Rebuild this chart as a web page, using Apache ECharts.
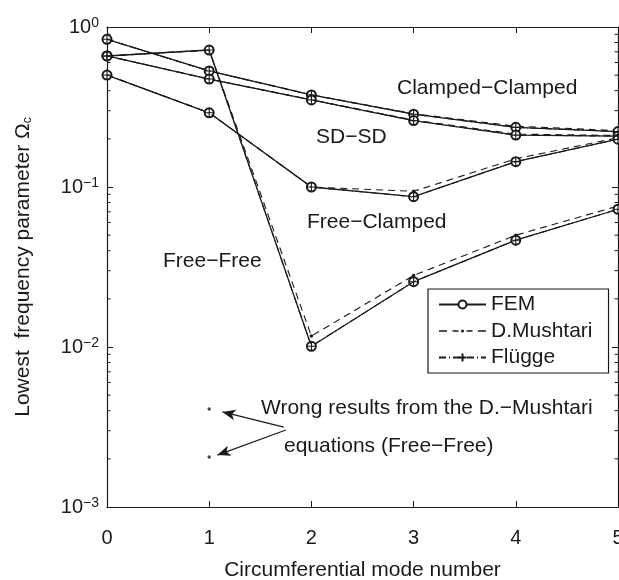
<!DOCTYPE html>
<html>
<head>
<meta charset="utf-8">
<script src="https://cdn.jsdelivr.net/npm/echarts@6/dist/echarts.min.js"></script>
<style>
  html, body { margin: 0; padding: 0; background: #fff; }
  #main { width: 619px; height: 580px; }
</style>
</head>
<body>
<div id="main"></div>
<script>
// mode numbers on x
const modes = [0, 1, 2, 3, 4, 5];

// FEM values
const femCC = [0.838, 0.531, 0.376, 0.285, 0.236, 0.222];
const femSS = [0.659, 0.473, 0.350, 0.260, 0.211, 0.208];
const femFC = [0.501, 0.291, 0.100, 0.087, 0.144, 0.199];
const femFF = [0.659, 0.718, 0.0101, 0.0256, 0.0465, 0.0726];

// D.Mushtari values (dashed)
const dmCC = [0.838, 0.531, 0.377, 0.287, 0.240, 0.225];
const dmSS = [0.659, 0.473, 0.351, 0.262, 0.214, 0.210];
const dmFC = [0.501, 0.291, 0.100, 0.094, 0.150, 0.203];
const dmFF = [0.659, 0.718, 0.0117, 0.0280, 0.0500, 0.0760];
// wrong D.Mushtari roots at mode 1 (Free-Free)
const dmWrong = [0.0041, 0.00205];

// Flügge values (coincide with FEM)
const flCC = [0.838, 0.531, 0.376, 0.285, 0.236, 0.222];
const flSS = [0.659, 0.473, 0.350, 0.260, 0.211, 0.208];
const flFC = [0.501, 0.291, 0.100, 0.087, 0.144, 0.199];
const flFF = [0.659, 0.718, 0.0101, 0.0256, 0.0465, 0.0726];

// log axis minor tick values
const minorTicks = [];
[0.001, 0.01, 0.1].forEach(d => { for (let k = 2; k <= 9; k++) minorTicks.push(+(k * d).toPrecision(3)); });

const ink = '#1a1a1a';
const font = 'Liberation Sans, Arial, Helvetica, sans-serif';

const pairs = (vals) => modes.map((m, i) => [m, vals[i]]);
const plusPath = 'path://M5,0 L5,10 M0,5 L10,5';
// legend icon for D.Mushtari: dashes with a small dot in the middle
const dmIcon = 'path://M0,0.8 H8 V2.2 H0 Z M13.5,0.8 H19.5 V2.2 H13.5 Z M27.5,0.8 H33.5 V2.2 H27.5 Z M39,0.8 H47 V2.2 H39 Z M22,1.5 A1.5,1.5 0 1 1 25,1.5 A1.5,1.5 0 1 1 22,1.5 Z';

const femSeries = (vals) => ({
    name: 'FEM', type: 'line', data: pairs(vals),
    symbol: 'emptyCircle', symbolSize: 9,
    lineStyle: { color: ink, width: 1.3 },
    itemStyle: { color: ink, borderColor: ink, borderWidth: 1.1 },
    z: 3, animation: false
});
const dmSeries = (vals) => ({
    name: 'D.Mushtari', type: 'line', data: pairs(vals),
    symbol: 'circle', symbolSize: 3.5,
    lineStyle: { color: ink, width: 1.1, type: [7, 5] },
    itemStyle: { color: ink },
    z: 2, animation: false
});
const flSeries = (vals) => ({
    name: 'Flügge', type: 'line', data: pairs(vals),
    symbol: plusPath, symbolSize: 9,
    lineStyle: { color: ink, width: 1.1, type: [7, 3, 1, 3] },
    itemStyle: { color: 'rgba(0,0,0,0)', borderColor: ink, borderWidth: 1.1 },
    z: 4, animation: false
});

const supLabel = (v) => {
    const e = Math.round(Math.log10(v));
    return '{b|10}{s|' + (e < 0 ? '\u2212' + (-e) : e) + '}';
};

const note = (text, left, cy) => ({
    type: 'text', left: left, top: cy - 11,
    style: { text: text, font: '21px ' + font, fill: ink }
});

const boxAxis = { show: true, onZero: false, lineStyle: { color: ink, width: 1.2 } };
const inTick = { show: true, inside: true, length: 6, lineStyle: { color: ink } };

const option = {
    backgroundColor: '#fff',
    animation: false,
    textStyle: { fontFamily: font, color: ink },
    grid: { left: 107, right: 1, top: 27, bottom: 73, containLabel: false, outerBoundsMode: 'none' },
    legend: {
        data: ['FEM', { name: 'D.Mushtari', icon: dmIcon, itemStyle: { color: ink, borderWidth: 0 } }, 'Flügge'],
        orient: 'vertical', left: 428, top: 289,
        borderColor: ink, borderWidth: 1.2, borderRadius: 0,
        padding: [5, 16, 5, 10], itemGap: 5.5,
        itemWidth: 47, itemHeight: 10,
        textStyle: { fontSize: 21, lineHeight: 21, color: ink, fontFamily: font }
    },
    xAxis: [{
        type: 'value', min: 0, max: 5, interval: 1,
        name: 'Circumferential mode number', nameLocation: 'middle', nameGap: 53,
        nameTextStyle: { fontSize: 21, color: ink, fontFamily: font },
        axisLine: boxAxis, axisTick: inTick,
        axisLabel: { fontSize: 20, color: ink, margin: 21, fontFamily: font },
        splitLine: { show: false }
    }, {
        type: 'value', position: 'top', min: 0, max: 5, interval: 1,
        axisLine: boxAxis, axisTick: inTick,
        axisLabel: { show: false }, splitLine: { show: false }
    }],
    yAxis: [{
        type: 'log', logBase: 10, min: 0.001, max: 1,
        name: 'Lowest  frequency parameter \u03a9{c|c}', nameLocation: 'middle', nameGap: 73,
        nameTextStyle: {
            fontSize: 21, color: ink, fontFamily: font,
            rich: { c: { fontSize: 12, fontFamily: font, color: ink, padding: [10, 0, 0, 0], verticalAlign: 'bottom' } }
        },
        axisLine: boxAxis, axisTick: inTick,
        axisLabel: {
            margin: 8, formatter: supLabel,
            rich: {
                b: { fontSize: 20, lineHeight: 22, fontFamily: font, color: ink },
                s: { fontSize: 14, fontFamily: font, color: ink, verticalAlign: 'top', padding: [0, 0, 7, 0] }
            }
        },
        splitLine: { show: false }
    }, {
        type: 'log', logBase: 10, min: 0.001, max: 1, position: 'right',
        axisLine: boxAxis, axisTick: inTick,
        axisLabel: { show: false }, splitLine: { show: false }
    }],
    graphic: [
        note('Clamped\u2212Clamped', 397, 89),
        note('SD\u2212SD', 316, 138),
        note('Free\u2212Clamped', 307, 223),
        note('Free\u2212Free', 163, 262),
        note('Wrong results from the D.\u2212Mushtari', 261, 409),
        note('equations (Free\u2212Free)', 284, 447)
    ],
    series: [
        femSeries(femCC), femSeries(femSS), femSeries(femFC), femSeries(femFF),
        dmSeries(dmCC), dmSeries(dmSS), dmSeries(dmFC), dmSeries(dmFF),
        flSeries(flCC), flSeries(flSS), flSeries(flFC), flSeries(flFF),
        {
            name: 'wrong', type: 'scatter', data: dmWrong.map(v => [1, v]),
            symbol: 'circle', symbolSize: 3.5, itemStyle: { color: ink },
            markLine: {
                silent: true, symbol: ['none', 'arrow'], symbolSize: [8, 13],
                label: { show: false },
                lineStyle: { color: ink, width: 1.2, type: 'solid' },
                data: [
                    [{ coord: [1.73, 0.00316] }, { coord: [1.13, 0.00393] }],
                    [{ coord: [1.75, 0.00303] }, { coord: [1.08, 0.00211] }]
                ]
            }
        },
        {
            name: 'minor', type: 'custom', clip: false, silent: true,
            data: minorTicks.map(v => [0, v]),
            renderItem: (params, api) => {
                const v = api.value(1);
                const l = api.coord([0, v]);
                const r = api.coord([5, v]);
                const st = { stroke: ink, lineWidth: 1 };
                return {
                    type: 'group', children: [
                        { type: 'line', shape: { x1: l[0], y1: l[1], x2: l[0] + 3.5, y2: l[1] }, style: st },
                        { type: 'line', shape: { x1: r[0] - 3.5, y1: r[1], x2: r[0], y2: r[1] }, style: st }
                    ]
                };
            }
        }
    ]
};

echarts.init(document.getElementById('main')).setOption(option);
</script>
</body>
</html>
